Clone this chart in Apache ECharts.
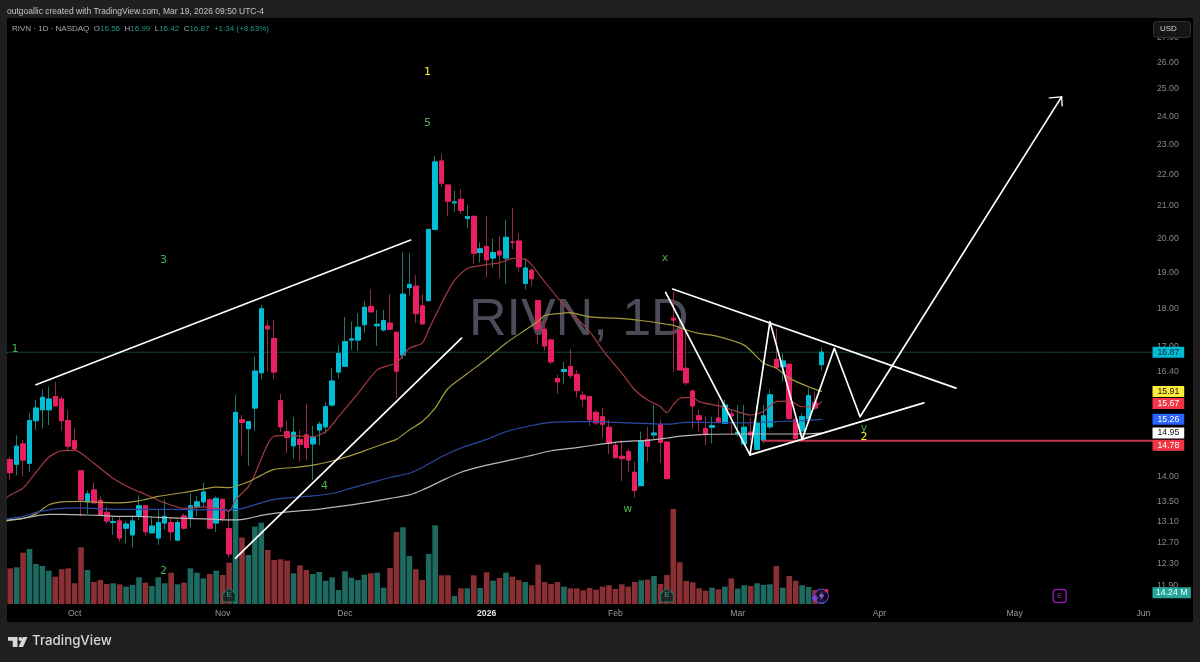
<!DOCTYPE html>
<html><head><meta charset="utf-8">
<style>html,body{margin:0;padding:0;background:#1f1f1f}#c{width:1200px;height:662px}</style>
<script src="https://cdn.jsdelivr.net/npm/echarts@6/dist/echarts.min.js"></script>
</head><body><div id="c"></div>
<script>
const dates = ['2025-09-17','2025-09-18','2025-09-19','2025-09-22','2025-09-23','2025-09-24','2025-09-25','2025-09-26','2025-09-29','2025-09-30',
'2025-10-01','2025-10-02','2025-10-03','2025-10-06','2025-10-07','2025-10-08','2025-10-09','2025-10-10','2025-10-13','2025-10-14','2025-10-15','2025-10-16','2025-10-17','2025-10-20','2025-10-21','2025-10-22','2025-10-23','2025-10-24','2025-10-27','2025-10-28','2025-10-29','2025-10-30','2025-10-31',
'2025-11-03','2025-11-04','2025-11-05','2025-11-06','2025-11-07','2025-11-10','2025-11-11','2025-11-12','2025-11-13','2025-11-14','2025-11-17','2025-11-18','2025-11-19','2025-11-20','2025-11-21','2025-11-24','2025-11-25','2025-11-26','2025-11-28',
'2025-12-01','2025-12-02','2025-12-03','2025-12-04','2025-12-05','2025-12-08','2025-12-09','2025-12-10','2025-12-11','2025-12-12','2025-12-15','2025-12-16','2025-12-17','2025-12-18','2025-12-19','2025-12-22','2025-12-23','2025-12-24','2025-12-26','2025-12-29','2025-12-30','2025-12-31',
'2026-01-02','2026-01-05','2026-01-06','2026-01-07','2026-01-08','2026-01-09','2026-01-12','2026-01-13','2026-01-14','2026-01-15','2026-01-16','2026-01-20','2026-01-21','2026-01-22','2026-01-23','2026-01-26','2026-01-27','2026-01-28','2026-01-29','2026-01-30',
'2026-02-02','2026-02-03','2026-02-04','2026-02-05','2026-02-06','2026-02-09','2026-02-10','2026-02-11','2026-02-12','2026-02-13','2026-02-17','2026-02-18','2026-02-19','2026-02-20','2026-02-23','2026-02-24','2026-02-25','2026-02-26','2026-02-27',
'2026-03-02','2026-03-03','2026-03-04','2026-03-05','2026-03-06','2026-03-09','2026-03-10','2026-03-11','2026-03-12','2026-03-13','2026-03-16','2026-03-17','2026-03-18','2026-03-19','2026-03-20','2026-03-23','2026-03-24','2026-03-25','2026-03-26','2026-03-27','2026-03-30','2026-03-31',
'2026-04-01','2026-04-02','2026-04-06','2026-04-07','2026-04-08','2026-04-09','2026-04-10','2026-04-13','2026-04-14','2026-04-15','2026-04-16','2026-04-17','2026-04-20','2026-04-21','2026-04-22','2026-04-23','2026-04-24','2026-04-27','2026-04-28','2026-04-29','2026-04-30',
'2026-05-01','2026-05-04','2026-05-05','2026-05-06','2026-05-07','2026-05-08','2026-05-11','2026-05-12','2026-05-13','2026-05-14','2026-05-15','2026-05-18','2026-05-19','2026-05-20','2026-05-21','2026-05-22','2026-05-26','2026-05-27','2026-05-28','2026-05-29',
'2026-06-01','2026-06-02'];
const monthKeys = ['2025-10-01','2025-11-03','2025-12-01','2026-01-02','2026-02-02','2026-03-02','2026-04-01','2026-05-01','2026-06-01'];
const monthLabels = ['Oct','Nov','Dec','2026','Feb','Mar','Apr','May','Jun'];
const priceTicks = [27,26,25,24,23,22,21,20,19,18,17,16.4,14.6,14,13.5,13.1,12.7,12.3,11.9];

const opens = [14.37,14.27,14.71,14.29,15.23,15.48,15.48,15.79,15.73,15.23,14.78,14.13,13.49,13.73,13.52,13.28,13.08,13.11,12.97,12.84,13.22,13.41,12.88,12.78,13.07,13.08,12.74,13.21,13.16,13.39,13.49,13.53,13.07,13.54,12.96,13.32,15.25,15.05,15.52,16.36,17.54,17.22,15.69,14.98,14.67,14.81,14.91,14.71,15.02,15.09,15.59,16.38,16.52,17.18,17.18,17.58,18.06,17.55,17.44,17.62,17.38,16.80,18.58,18.62,18.08,18.22,20.27,22.45,21.66,21.09,21.20,20.60,20.67,19.58,19.76,19.42,19.62,19.42,19.89,19.92,18.70,19.07,18.22,17.46,17.18,16.22,16.39,16.51,16.32,15.82,15.79,15.42,15.32,15.08,14.68,14.44,14.54,14.10,13.82,14.81,14.91,15.15,14.75,17.75,17.44,16.47,15.92,15.34,15.05,15.08,15.29,15.17,15.38,14.94,14.71,14.97,14.59,14.79,15.09,16.69,16.51,16.57,15.26,15.00,15.27,15.65,16.56];
const highs = [14.43,14.90,14.79,15.40,15.71,15.96,16.02,16.14,15.79,15.48,15.05,14.13,13.72,13.88,13.60,13.39,13.20,13.20,13.10,13.20,13.62,13.41,13.20,13.33,13.54,13.16,13.13,13.26,13.65,13.60,13.88,13.56,13.60,13.56,13.30,15.83,15.36,15.21,16.76,18.10,17.69,17.71,15.85,15.23,15.32,15.02,15.62,15.11,15.21,15.65,16.47,17.05,17.78,17.66,17.88,18.20,18.54,17.97,17.97,18.40,17.40,19.58,19.56,18.93,18.40,20.27,22.62,22.69,21.66,21.48,21.52,21.02,20.67,19.88,20.68,20.00,20.07,20.56,20.92,20.15,19.41,19.12,18.22,17.71,17.22,16.31,16.63,16.95,16.43,15.91,15.80,15.48,15.52,15.25,14.75,14.79,14.61,14.32,14.98,15.09,15.59,15.25,14.76,18.47,17.75,17.40,15.95,15.48,15.32,15.32,15.67,15.71,15.50,15.59,15.59,15.29,15.59,15.59,15.95,17.47,16.84,16.59,15.26,15.41,15.98,15.91,16.99];
const lows = [13.94,14.04,14.02,14.11,15.02,15.05,15.13,15.57,15.00,14.57,14.57,13.20,13.25,13.46,13.21,13.05,12.84,12.71,12.68,12.60,13.13,12.81,12.87,12.65,12.94,12.73,12.73,12.94,12.99,13.20,13.39,12.97,12.90,13.10,12.40,13.20,14.46,14.24,15.00,16.20,16.39,16.20,14.98,14.51,14.39,14.32,14.36,13.94,14.68,14.94,15.55,16.23,16.51,16.93,16.91,17.37,17.92,17.03,17.40,17.44,15.75,16.70,18.38,17.62,17.60,18.22,20.27,21.61,20.68,20.81,20.74,20.30,19.25,19.29,18.87,19.15,18.84,18.68,19.68,19.03,18.53,18.62,17.08,16.91,16.57,15.85,16.10,16.22,15.77,15.55,15.11,15.13,14.85,14.49,14.41,13.92,14.11,13.58,13.82,14.32,14.83,14.30,13.95,16.39,16.43,16.06,15.05,14.98,14.68,14.72,15.17,15.15,14.90,14.87,14.69,14.78,14.58,14.72,15.05,16.47,16.14,15.25,14.81,14.87,15.25,15.48,16.42];
const closes = [14.09,14.66,14.36,15.23,15.52,15.77,15.73,15.57,15.23,14.66,14.60,13.53,13.65,13.47,13.24,13.11,13.10,12.78,13.05,13.11,13.41,12.90,13.01,13.08,13.20,12.90,13.08,12.97,13.41,13.49,13.69,12.97,13.56,13.16,12.48,15.42,15.19,15.21,16.40,18.00,17.47,16.38,15.09,14.85,14.97,14.70,14.63,14.85,15.15,15.55,16.16,16.84,17.14,17.21,17.51,18.04,17.92,17.59,17.69,17.46,16.40,18.40,18.67,17.87,17.60,20.27,22.42,21.72,21.14,21.12,20.85,20.66,19.56,19.69,19.37,19.58,19.51,20.03,19.88,19.17,19.13,18.83,17.46,17.03,16.63,16.14,16.44,16.29,15.93,15.73,15.25,15.18,15.15,14.72,14.41,14.39,14.36,13.72,14.78,14.66,14.95,14.74,13.97,17.70,16.43,16.12,15.57,15.25,14.94,15.12,15.21,15.59,15.34,14.97,15.08,14.91,15.17,15.34,15.83,16.49,16.65,15.28,14.83,15.32,15.81,15.52,16.87];
const volumesM = [33.9,34.9,48.8,52.3,38,36.1,31.7,26,33,33.9,19.7,53.9,32.3,20.9,22.8,19,19.7,18.7,16.5,18.1,25.4,20.3,17.1,25.4,19.7,29.8,18.7,20.3,33.9,29.8,24.4,28.5,31.7,27.6,39.3,89.4,63.1,46.6,73.5,77.3,51.4,41.8,42.5,41.2,29.2,36.8,32.3,28.5,30.4,22.2,25.4,13.3,31.1,25,22.8,27.9,29.2,29.8,15.5,34.2,68.5,72.9,45.6,33,22.8,47.6,74.8,27.3,27.3,7.6,14.9,14.9,27.3,15.2,30.1,22.2,24.7,29.8,26,22.8,20.9,17.8,37.4,20.9,19,20.9,16.5,14.9,14.9,13,15.2,13.6,16.5,17.8,14.3,18.7,16.5,20.9,22.5,23.1,26.6,19,27.6,90.3,39.6,21.9,20.6,14.9,12.7,15.5,13.9,16.5,24.4,14.6,17.8,17.1,19.7,18.1,18.7,36.1,15.5,26.6,22.2,17.8,16.2,13.3,14.24];

const maRed = [[-0.5,13.58],[0,13.63],[2,13.77],[4,14.1],[6,14.42],[8,14.56],[10,14.57],[13,14.29],[16,13.97],[19,13.75],[21,13.64],[24,13.47],[27,13.36],[30,13.39],[33,13.34],[34,13.3],[35,13.53],[37,13.8],[38,14.06],[40,14.71],[41,14.88],[43,14.9],[45,14.88],[47,14.87],[49,14.98],[51,15.32],[54,15.86],[57,16.43],[59,16.55],[60,16.6],[62,16.97],[64,17.1],[65,17.45],[67,18.15],[69,18.78],[71,19.12],[74,19.23],[76,19.28],[78,19.41],[80,19.38],[81,19.22],[83,18.75],[86,18.1],[90,17.4],[92,16.93],[95,16.35],[97,15.95],[99,15.71],[101,15.55],[102,15.41],[103,15.6],[104,15.75],[106,15.77],[107,15.67],[110,15.57],[112,15.48],[115,15.36],[117,15.44],[119,15.67],[121,15.68],[123,15.55],[125,15.55],[126,15.67]];
const maYellow = [[-0.5,13.11],[0,13.12],[2,13.16],[4,13.25],[6,13.43],[8,13.49],[11,13.5],[14,13.48],[17,13.47],[20,13.51],[23,13.6],[27,13.68],[30,13.75],[32,13.79],[34,13.78],[37,13.9],[39,14.04],[41,14.16],[44,14.2],[47,14.25],[50,14.34],[53,14.46],[56,14.61],[59,14.76],[60,14.81],[62,15.02],[64,15.21],[66,15.52],[68,15.98],[71,16.34],[74,16.7],[77,17.1],[80,17.44],[82,17.67],[83,17.82],[85,17.87],[87,17.9],[89,17.82],[91,17.77],[94,17.75],[98,17.69],[102,17.59],[103,17.56],[105,17.44],[107,17.35],[110,17.27],[114,17.05],[117,16.6],[119,16.47],[121,16.23],[124,16.02],[126,15.91]];
const maBlue = [[-0.5,13.15],[0,13.16],[2,13.2],[4,13.28],[6,13.33],[8,13.36],[11,13.37],[14,13.35],[17,13.34],[20,13.34],[23,13.34],[27,13.34],[30,13.33],[32,13.33],[35,13.34],[37,13.39],[39,13.47],[41,13.54],[44,13.58],[47,13.61],[50,13.66],[53,13.77],[56,13.88],[59,13.99],[62,14.08],[64,14.2],[67,14.43],[70,14.62],[74,14.81],[77,14.98],[81,15.12],[84,15.19],[88,15.21],[91,15.21],[94,15.19],[98,15.17],[102,15.15],[105,15.19],[107,15.19],[114,15.18],[119,15.21],[123,15.23],[126,15.26]];
const maWhite = [[-0.5,13.12],[0,13.13],[2,13.16],[4,13.21],[6,13.24],[8,13.24],[11,13.23],[14,13.22],[17,13.2],[20,13.2],[23,13.18],[27,13.16],[30,13.15],[32,13.14],[35,13.13],[37,13.16],[39,13.22],[41,13.26],[44,13.3],[47,13.33],[50,13.38],[53,13.43],[56,13.49],[59,13.56],[62,13.63],[64,13.73],[67,13.92],[70,14.1],[74,14.25],[78,14.37],[81,14.46],[84,14.56],[88,14.63],[92,14.71],[95,14.76],[99,14.79],[102,14.84],[104,14.88],[108,14.92],[114,14.93],[122,14.93],[126,14.95]];

const lineA = [[4,16.07],[62.2,19.95]];
const lineB = [[35,12.4],[70.1,17.23]];
const wedgeTop = [[102.9,18.54],[146.9,15.99]];
const wedgeBottom = [[114.9,14.47],[141.9,15.64]];
const zigzag = [[101.8,18.45],[114.9,14.47],[118,17.66],[123,14.81],[128,16.97],[132,15.32],[163.3,24.71]];
const arrowHead = [[161.4,24.67],[163.3,24.71],[163.4,24.38]];
const supportLine = [[116.9,14.78],[177.5,14.78]];
const lastPriceLine = [[-0.5,16.87],[177.5,16.87]];

const waveTexts = ['1','5','3','1','2','4','x','w','y','2'];
const wavePoints = [[64.8,25.65],[64.8,23.77],[23.8,19.35],[0.75,16.95],[23.8,12.16],[48.8,13.81],[101.7,19.43],[95.9,13.34],[132.6,15.06],[132.6,14.86]];
const waveColors = ['#ffeb3b','#4caf50','#4caf50','#4caf50','#4caf50','#4caf50','#4caf50','#4caf50','#4caf50','#ffeb3b'];

const priceTags = [16.87,15.91,15.67,15.26,14.95,14.78];
const tagFills = ['#00bcd4','#ffeb3b','#f23645','#2962ff','#ffffff','#f23645'];
const tagInks = ['#123','#111','#fff','#fff','#111','#fff'];
const tagShift = [0,0,2,0,0,4.5];
const lastVolumeM = 14.24;
const earningsIdx = [34,102];

const chart = echarts.init(document.getElementById('c'),null,{renderer:'canvas'});
const UP='#00bcd4',DOWN='#e91e63';
const FONT='"Liberation Sans",Arial,sans-serif';
const wick=(name,data,col,w,z,dash)=>({name,type:'line',xAxisIndex:1,yAxisIndex:0,data,showSymbol:false,symbol:'none',silent:true,z:z||4,lineStyle:{color:col,width:w,cap:'round',join:'round',type:dash||'solid'},animation:false,clip:false});
const ma=(name,data,col)=>Object.assign(wick(name,data,col,1.2,3),{smooth:0.25});

const candle=opens.map((o,i)=>[o,closes[i],lows[i],highs[i]]);
const bodies=opens.map((o,i)=>[o,closes[i],Math.min(o,closes[i]),Math.max(o,closes[i])]);
const legendRich={g:{fill:'#a8abb2',fontSize:8,fontFamily:FONT},t:{fill:'#1f9a84',fontSize:8,fontFamily:FONT}};

chart.setOption({
 animation:false,backgroundColor:'#1f1f1f',
 grid:{left:7,top:18,width:1146,height:586,containLabel:false},
 xAxis:[
  {type:'category',data:dates,boundaryGap:true,axisLine:{show:false},axisTick:{show:false},splitLine:{show:false},
   axisLabel:{color:'#9a9a9a',fontSize:8.6,fontFamily:FONT,margin:5,hideOverlap:false,
    interval:(i,v)=>monthKeys.includes(v),
    formatter:v=>{const l=monthLabels[monthKeys.indexOf(v)];return l==='2026'?'{y|2026}':(l||'');},
    rich:{y:{color:'#e6e6e6',fontWeight:'bold',fontSize:8.6,fontFamily:FONT}}}},
  {type:'value',min:-0.5,max:177.5,show:false}
 ],
 yAxis:[
  {type:'log',position:'right',min:11.58,max:27.8,logBase:10,splitLine:{show:false},axisLine:{show:false},axisTick:{show:false},minorTick:{show:false},
   axisLabel:{customValues:priceTicks,color:'#8a8a8a',fontSize:8.7,fontFamily:FONT,margin:4,align:'left',formatter:v=>(+v).toFixed(2)}},
  {type:'value',min:0,max:557,show:false}
 ],
 series:[
  {name:'Volume',type:'bar',xAxisIndex:0,yAxisIndex:1,barWidth:5.6,z:1,silent:true,
   data:volumesM.map((v,i)=>({value:v,itemStyle:{color:closes[i]>=opens[i]?'#1d6a60':'#8a2f33'}}))},
  {name:'RIVN wicks',type:'candlestick',xAxisIndex:0,yAxisIndex:0,barWidth:5,z:2,silent:true,data:candle,
   itemStyle:{color:'#1d7a70',color0:'#93294a',borderColor:'#1d7a70',borderColor0:'#93294a',borderWidth:1}},
  {name:'RIVN',type:'candlestick',xAxisIndex:0,yAxisIndex:0,barWidth:5,z:2,silent:true,data:bodies,
   itemStyle:{color:UP,color0:DOWN,borderColor:UP,borderColor0:DOWN,borderWidth:1}},
  wick('Last price',lastPriceLine,'#1f6a70',1,1,[1,2]),
  ma('MA red',maRed,'#a33a40'),ma('MA yellow',maYellow,'#a39a3c'),ma('MA blue',maBlue,'#2b4aa6'),ma('MA white',maWhite,'#b8b8b8'),
  wick('Support',supportLine,'#c8344c',2),
  wick('Trend A',lineA,'#ffffff',1.7),wick('Trend B',lineB,'#ffffff',1.7),
  wick('Wedge top',wedgeTop,'#ffffff',1.7),wick('Wedge bottom',wedgeBottom,'#ffffff',1.7),
  wick('Zigzag',zigzag,'#ffffff',1.7),wick('Arrow head',arrowHead,'#ffffff',1.3),
  {name:'Wave counts',type:'scatter',xAxisIndex:1,yAxisIndex:0,symbolSize:1,z:6,silent:true,itemStyle:{opacity:0},
   data:wavePoints.map((p,i)=>({value:p,label:{show:true,position:'inside',formatter:waveTexts[i],color:waveColors[i],fontSize:11,fontFamily:'"DejaVu Sans",sans-serif',opacity:1}}))},
  {name:'Price tags',type:'scatter',xAxisIndex:1,yAxisIndex:0,symbolSize:1,z:7,silent:true,clip:false,itemStyle:{opacity:0},
   data:priceTags.map((p,i)=>({value:[177.5,p],label:{show:true,opacity:1,position:'right',distance:-1,offset:[0,tagShift[i]],formatter:p.toFixed(2),color:tagInks[i],backgroundColor:tagFills[i],padding:[1,5,1,5],fontSize:8.7,fontFamily:FONT,lineHeight:9}}))},
  {name:'Volume tag',type:'scatter',xAxisIndex:1,yAxisIndex:1,symbolSize:1,z:7,silent:true,clip:false,itemStyle:{opacity:0},
   data:[{value:[177.5,lastVolumeM-3.5],label:{show:true,opacity:1,position:'right',distance:-1,formatter:lastVolumeM.toFixed(2)+' M',color:'#e8fffb',backgroundColor:'#26a69a',padding:[1,3.5,1,3.5],fontSize:8.7,fontFamily:FONT,lineHeight:9}}]},
  {name:'Earnings',type:'scatter',xAxisIndex:1,yAxisIndex:1,z:6,silent:true,symbol:'path://M0 5 L5 0 L10 5 L10 12 L0 12 Z',symbolSize:[13,14],
   itemStyle:{color:'#0b2523',borderColor:'#1f8a78',borderWidth:1},
   label:{show:true,opacity:1,position:'inside',formatter:'E',color:'#2aa08c',fontSize:8,fontFamily:FONT},
   data:earningsIdx.map(i=>[i,8.5])},
  {name:'Next earnings',type:'scatter',xAxisIndex:1,yAxisIndex:1,z:6,silent:true,symbol:'roundRect',symbolSize:13,
   itemStyle:{color:'#000',borderColor:'#a424cc',borderWidth:1.5},
   label:{show:true,position:'inside',formatter:'E',color:'#b433d8',fontSize:8,fontFamily:FONT},data:[[163,7.6]]},
  {name:'Flash ring',type:'scatter',xAxisIndex:1,yAxisIndex:1,z:6,silent:true,symbol:'circle',symbolSize:14,
   itemStyle:{color:'#120a20',borderColor:'#7c3cff',borderWidth:1.2},data:[[126,7.6]]},
  {name:'Flash bolt',type:'scatter',xAxisIndex:1,yAxisIndex:1,z:7,silent:true,symbol:'path://M6 0 L0 7 L4 7 L3 12 L9 4 L5 4 Z',symbolSize:[6,9],
   itemStyle:{color:'#b06cff'},data:[[126,7.6]]},
  {name:'Flash star',type:'scatter',xAxisIndex:1,yAxisIndex:1,z:8,silent:true,symbol:'diamond',symbolSize:7,
   itemStyle:{color:'#7c4dff'},data:[[125,5.5]]},
  {name:'Flash dot',type:'scatter',xAxisIndex:1,yAxisIndex:1,z:8,silent:true,symbol:'circle',symbolSize:4,
   itemStyle:{color:'#f23645'},data:[[126.8,12.5]]}
 ],
 graphic:{elements:[
  {type:'rect',silent:true,z:-10,shape:{x:7,y:18,width:1186,height:604},style:{fill:'#000'}},
  {type:'text',silent:true,z:-5,left:469,top:295,style:{text:'RIVN, 1D',fill:'#4c4c58',fontSize:52,fontFamily:FONT}},
  {type:'text',silent:true,z:20,left:7,top:7,style:{text:'outgoallic created with TradingView.com, Mar 19, 2026 09:50 UTC-4',fill:'#c4c4c4',fontSize:8.5,fontFamily:FONT}},
  {type:'text',silent:true,z:20,left:12,top:24.5,style:{rich:legendRich,text:'{g|RIVN · 1D · NASDAQ  O}{t|16.56  }{g|H}{t|16.99  }{g|L}{t|16.42  }{g|C}{t|16.87  +1.34 (+8.63%)}'}},
  {type:'rect',silent:true,z:20,shape:{x:1153.5,y:21.5,width:37,height:16,r:3},style:{fill:'#161616',stroke:'#333'}},
  {type:'text',silent:true,z:21,left:1160,top:25,style:{text:'USD',fill:'#d0d0d0',fontSize:8,fontFamily:FONT}},
  {type:'polygon',silent:true,z:20,shape:{points:[[8,637],[17.5,637],[17.5,647],[12.7,647],[12.7,640.7],[8,640.7]]},style:{fill:'#d8d8d8'}},
  {type:'circle',silent:true,z:20,shape:{cx:20.5,cy:639,r:2},style:{fill:'#d8d8d8'}},
  {type:'polygon',silent:true,z:20,shape:{points:[[23,637],[27.5,637],[23,647],[18.5,647]]},style:{fill:'#d8d8d8'}},
  {type:'text',silent:true,z:20,left:32,top:634.5,style:{text:'TradingView',fill:'#d8d8d8',fontSize:13.3,fontWeight:500,fontFamily:'Inter,'+FONT}}
 ]}
});
</script></body></html>
